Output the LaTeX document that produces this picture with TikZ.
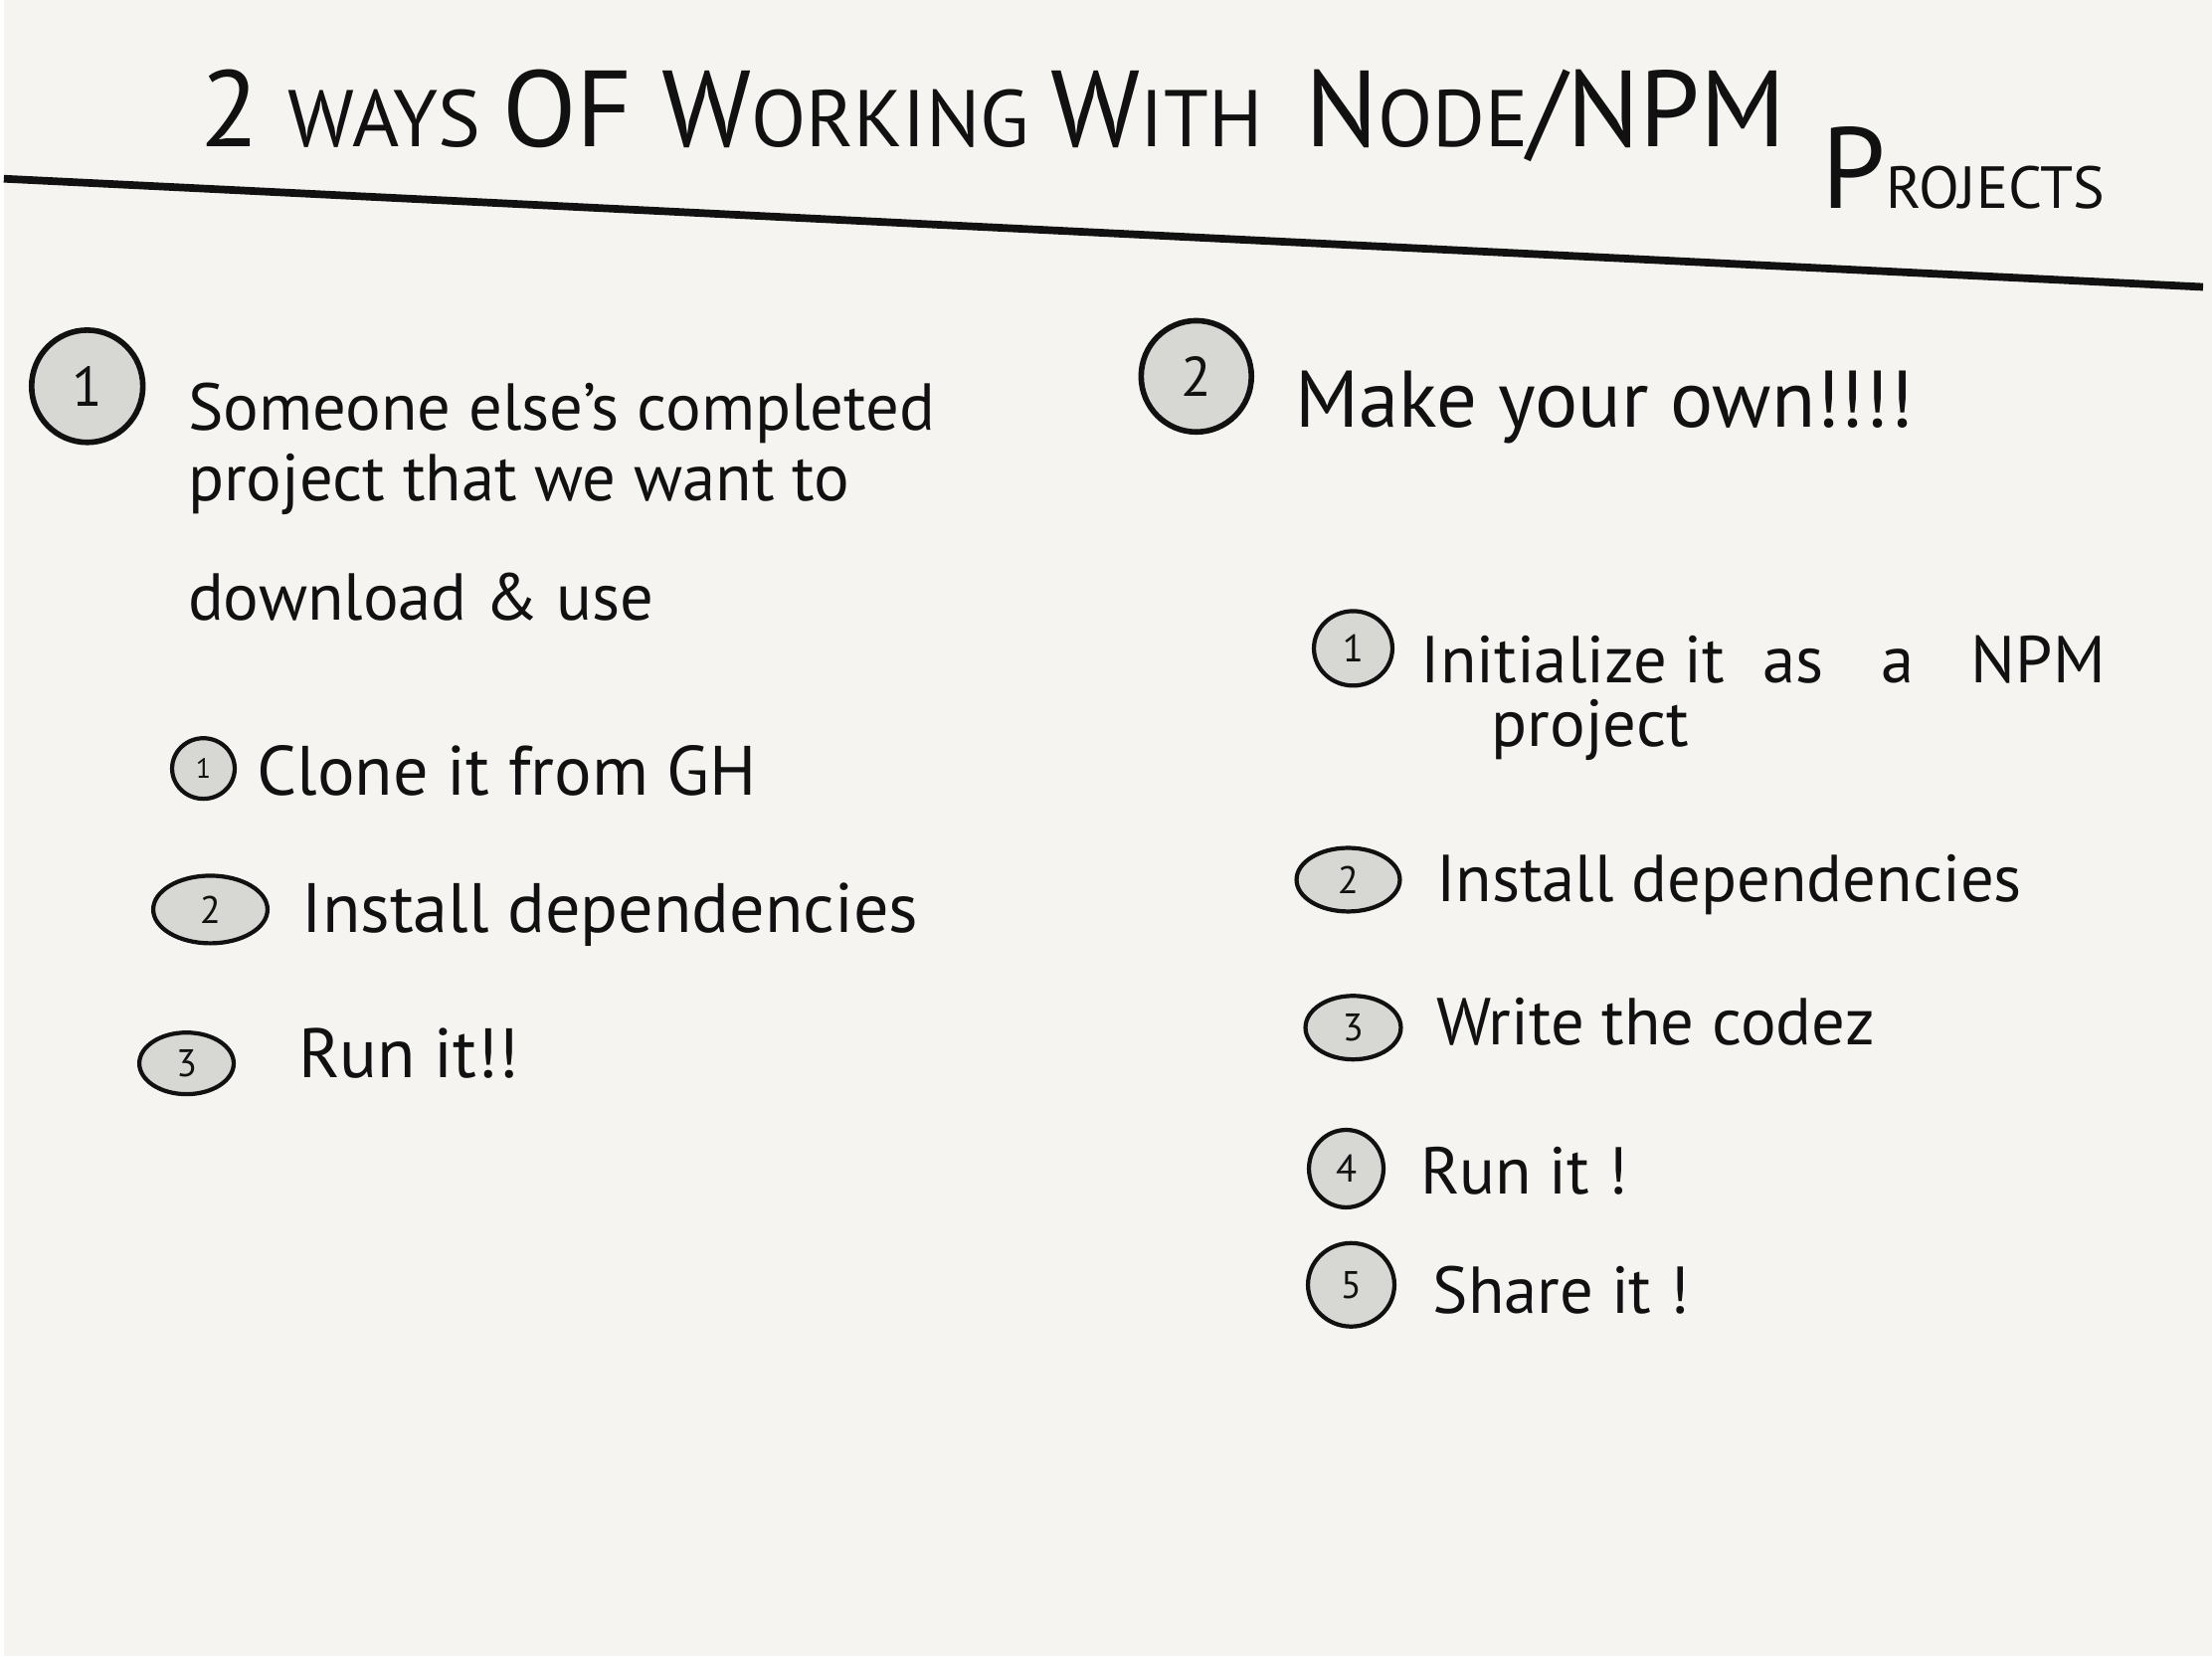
\documentclass[tikz,border=0pt]{standalone}
\usepackage{fontspec}
\setmainfont{PT Sans}
\usetikzlibrary{positioning,shapes.geometric}
\definecolor{paper}{HTML}{F5F4F0}
\definecolor{numfill}{HTML}{D7D7D4}
\definecolor{ink}{HTML}{111111}
\newcommand\hbig{\fontsize{31}{32}\selectfont}
\newcommand\hsmall{\fontsize{23}{24}\selectfont}

\begin{document}
\begin{tikzpicture}[x=0.01cm, y=-0.01cm, node distance=3mm and 3mm,
  every node/.style={text=ink, inner sep=0pt},
  num/.style={draw=ink, ellipse, fill=numfill, line width=1.2pt, font=\fontsize{11}{11}\selectfont},
  bignum/.style={num, line width=1.6pt, font=\fontsize{16}{16}\selectfont},
  head/.style={font=\fontsize{19}{21}\selectfont, anchor=base west},
  item/.style={font=\fontsize{19}{20}\selectfont, anchor=base west}]
  \fill[paper] (0,0) rectangle (2224,1668);

  % title and rule
  \node[anchor=base west] (title) at (197,148)
    {{\hbig 2 }{\hsmall WAYS }{\hbig OF W}{\hsmall ORKING }{\hbig W}{\hsmall ITH\ \ }{\hbig N}{\hsmall ODE}{\hbig /NPM}};
  \node[anchor=base west] (proj) at (1830,210) {{\fontsize{33}{33}\selectfont P}{\fontsize{17}{17}\selectfont ROJECTS}};
  \coordinate (ruleL) at (0,180);
  \coordinate (ruleR) at (2215,289);
  \draw[ink, line width=2.2pt] (ruleL) -- (ruleR);

  % way 1
  \node[bignum, minimum width=1.12cm, minimum height=1.13cm] (w1) at (84,389) {1};
  \node[head, right=4.2mm of w1, anchor=base west, yshift=-4.4mm] (w1a) {Someone else's completed};
  \node[head, below=7.1mm of w1a.base west, anchor=base west] (w1b) {project that we want to};
  \node[head, below=12mm of w1b.base west, anchor=base west] (w1c) {download \& use};

  \node[num, minimum width=0.63cm, minimum height=0.61cm, font=\fontsize{8}{8}\selectfont] (l1) at (201,774) {1};
  \node[num, minimum width=1.15cm, minimum height=0.68cm] (l2) at (208,916) {2};
  \node[num, minimum width=0.95cm, minimum height=0.62cm] (l3) at (184,1071) {3};
  \node[item, font=\fontsize{20}{21}\selectfont, right=2mm of l1, anchor=base west, yshift=-2.7mm] (l1t) {Clone it from GH};
  \node[item, font=\fontsize{20}{21}\selectfont, right=3.2mm of l2, anchor=base west, yshift=-2.3mm] (l2t) {Install dependencies};
  \node[item, font=\fontsize{20}{21}\selectfont, right=6.3mm of l3, anchor=base west, yshift=-1.4mm] (l3t) {Run it!!};

  % way 2
  \node[bignum, minimum width=1.11cm, minimum height=1.12cm] (w2) at (1201,379) {2};
  \node[head, font=\fontsize{23}{24}\selectfont, right=4.1mm of w2, anchor=base west, yshift=-5.1mm] (w2a) {Make your own!!!!};

  \node[num, minimum width=0.79cm, minimum height=0.75cm] (r1) at (1359,653) {1};
  \node[num, minimum width=1.04cm, minimum height=0.64cm] (r2) at (1354,886) {2};
  \node[num, minimum width=0.96cm, minimum height=0.64cm] (r3) at (1359,1035) {3};
  \node[num, minimum width=0.75cm, minimum height=0.78cm] (r4) at (1352,1177) {4};
  \node[num, minimum width=0.87cm, minimum height=0.84cm] (r5) at (1357,1294) {5};
  \node[item, right=2.6mm of r1, anchor=base west, yshift=-3.5mm] (r1t) {Initialize it\hspace{2mm} as\hspace{4mm} a\hspace{4mm} NPM};
  \node[item, below right=6.4mm and 7.1mm of r1t.base west, anchor=base west] (r1u) {project};
  \node[item, right=3.4mm of r2, anchor=base west, yshift=-2.2mm] (r2t) {Install dependencies};
  \node[item, right=3.3mm of r3, anchor=base west, yshift=-1.7mm] (r3t) {Write the codez};
  \node[item, right=3.5mm of r4, anchor=base west, yshift=-2.6mm] (r4t) {Run it !};
  \node[item, right=3.6mm of r5, anchor=base west, yshift=-2.9mm] (r5t) {Share it !};
\end{tikzpicture}
\end{document}
